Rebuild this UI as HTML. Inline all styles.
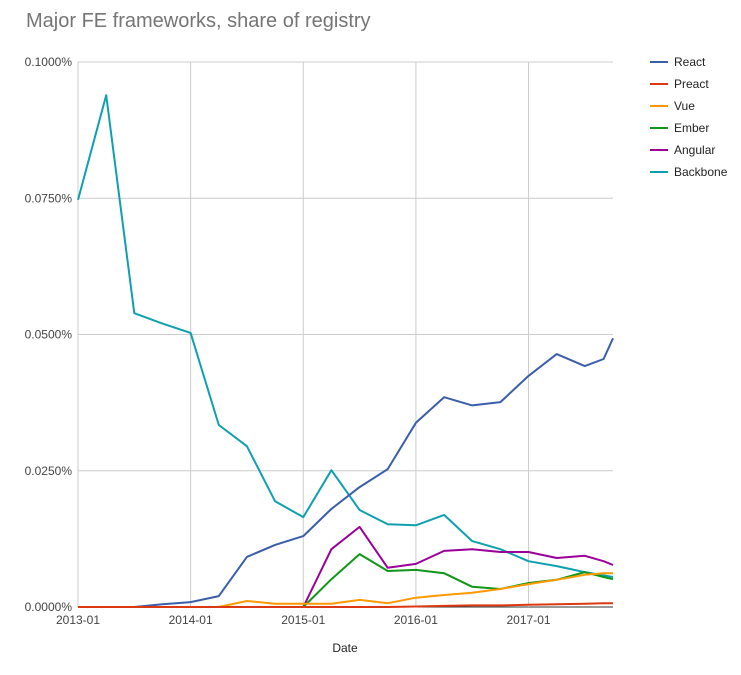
<!DOCTYPE html>
<html><head><meta charset="utf-8">
<style>
body{margin:0;background:#fff;font-family:"Liberation Sans",sans-serif;}
svg text{font-family:"Liberation Sans",sans-serif;}
</style></head>
<body>
<svg id="chart" width="741" height="670">
<text x="26" y="27" font-size="20" fill="#757575">Major FE frameworks, share of registry</text>
<g id="grid"></g><g id="lines"></g><g id="legend"></g>
<text x="345" y="652" font-size="12" fill="#222" text-anchor="middle">Date</text>
</svg>
<script>
const months=[0,3,6,9,12,15,18,21,24,27,30,33,36,39,42,45,48,51,54,56,57];
const seriesNames=["React","Preact","Vue","Ember","Angular","Backbone"];
const react=[0,0,0,0.0005,0.0009,0.002,0.0092,0.0114,0.013,0.018,0.022,0.0253,0.0338,0.0385,0.037,0.0376,0.0424,0.0464,0.0442,0.0455,0.0493];
const preact=[0,0,0,0,0,0,0,0,0,0,0,0,0.0001,0.0002,0.0003,0.0003,0.0004,0.0005,0.0006,0.0007,0.0007];
const vue=[0,0,0,0,0,0,0.0011,0.0006,0.0006,0.0006,0.0013,0.0007,0.0017,0.0022,0.0026,0.0033,0.0042,0.005,0.0059,0.0062,0.0062];
const ember=[0,0,0,0,0,0,0,0,0,0.0051,0.0097,0.0066,0.0068,0.0062,0.0037,0.0033,0.0044,0.005,0.0064,0.0055,0.0051];
const angular=[0,0,0,0,0,0,0,0,0,0.0106,0.0147,0.0072,0.0079,0.0103,0.0106,0.0101,0.0101,0.009,0.0094,0.0084,0.0077];
const backbone=[0.0747,0.0939,0.0539,0.052,0.0503,0.0334,0.0295,0.0194,0.0165,0.0251,0.0178,0.0152,0.015,0.0169,0.0121,0.0106,0.0084,0.0075,0.0064,0.0058,0.0055];
const yTicks=[0,0.025,0.05,0.075,0.1];
const yTickLabels=["0.0000%","0.0250%","0.0500%","0.0750%","0.1000%"];
const xTicks=[0,12,24,36,48];
const xTickLabels=["2013-01","2014-01","2015-01","2016-01","2017-01"];
const colors=["#3b5ea8","#dc3912","#ff9900","#109618","#990099","#0fa0b0"];
const X0=78,X1=613,Y0=607,Y1=62;
const xs=m=>X0+(m/57)*(X1-X0);
const ys=v=>Y0-(v/0.1)*(Y0-Y1);
const NS="http://www.w3.org/2000/svg";
const grid=document.getElementById('grid'),lines=document.getElementById('lines'),legend=document.getElementById('legend');
function mk(tag,attrs,parent){const e=document.createElementNS(NS,tag);for(const k in attrs)e.setAttribute(k,attrs[k]);parent.appendChild(e);return e;}
yTicks.forEach((t,i)=>{
 const l=mk('line',{x1:X0,x2:X1,y1:ys(t),y2:ys(t),stroke:i==0?'#333':'#ccc','stroke-width':1},grid);
 
 
 const tx=mk('text',{x:72,y:ys(t)+4,'font-size':12,fill:'#444','text-anchor':'end'},grid);
 tx.textContent=yTickLabels[i];
 
 
});
xTicks.forEach((t,i)=>{
 const l=mk('line',{x1:xs(t),x2:xs(t),y1:Y1,y2:Y0,stroke:'#ccc','stroke-width':1},grid);
 
 
 const tx=mk('text',{x:xs(t),y:624,'font-size':12,fill:'#444','text-anchor':'middle'},grid);
 tx.textContent=xTickLabels[i];
 
 
});
const all=[react,preact,vue,ember,angular,backbone];
[5,0,4,3,2,1].forEach(si=>{
 const d=all[si].map((v,i)=>(i?'L':'M')+xs(months[i]).toFixed(1)+','+ys(v).toFixed(1)).join('');
 const p=mk('path',{d:d,fill:'none',stroke:colors[si],'stroke-width':2,'stroke-linejoin':'round'},lines);
 
 
});
seriesNames.forEach((n,i)=>{
 const y=62+i*22;
 const g=mk('g',{},legend);
 
 
 mk('line',{x1:650,x2:668,y1:y,y2:y,stroke:colors[i],'stroke-width':2},g);
 const t=mk('text',{x:674,y:y+4,'font-size':12,fill:'#222'},g);
 t.textContent=n;
});
</script>
</body></html>
